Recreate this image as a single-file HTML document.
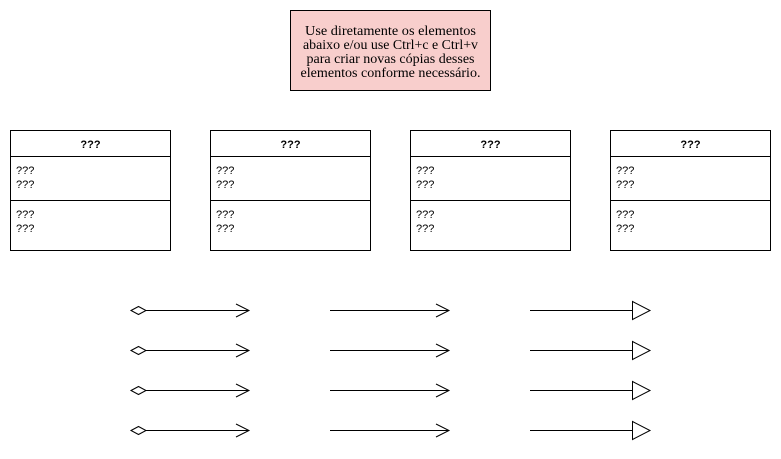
<!DOCTYPE html>
<html><head><meta charset="utf-8"><style>
html,body{margin:0;padding:0;background:#fff;}
svg{display:block;}
</style></head><body>
<svg width="781" height="459" viewBox="0 0 781 459" xmlns="http://www.w3.org/2000/svg">
<rect x="0" y="0" width="781" height="459" fill="#fff"/>
<rect x="290.5" y="10.5" width="200" height="80" fill="#f8cecc" stroke="#000" stroke-width="1"/>
<g font-family="'Liberation Serif', serif" font-size="13.5" fill="#000" text-anchor="middle" lengthAdjust="spacingAndGlyphs">
<text x="390.5" y="35" textLength="171" lengthAdjust="spacingAndGlyphs">Use diretamente os elementos</text>
<text x="390.5" y="49" textLength="175" lengthAdjust="spacingAndGlyphs">abaixo e/ou use Ctrl+c e Ctrl+v</text>
<text x="390.5" y="63" textLength="168" lengthAdjust="spacingAndGlyphs">para criar novas cópias desses</text>
<text x="390.5" y="77" textLength="180" lengthAdjust="spacingAndGlyphs">elementos conforme necessário.</text>
</g>
<g id="cls" font-family="'Liberation Sans', sans-serif" font-size="11" fill="#000">
<rect x="10.5" y="130.5" width="160" height="120" fill="#fff" stroke="#000"/>
<line x1="10.5" y1="156.5" x2="170.5" y2="156.5" stroke="#000"/>
<line x1="10.5" y1="200.5" x2="170.5" y2="200.5" stroke="#000"/>
<text x="90.5" y="148" text-anchor="middle" font-weight="bold">???</text>
<text x="16" y="174">???</text>
<text x="16" y="188">???</text>
<text x="16" y="218">???</text>
<text x="16" y="232">???</text>
</g>
<use href="#cls" x="200"/>
<use href="#cls" x="400"/>
<use href="#cls" x="600"/>
<g id="row" fill="none" stroke="#000" stroke-width="1">
<path d="M131 310.5 L138.5 306.5 L146 310.5 L138.5 314.5 Z" fill="#fff"/>
<line x1="146" y1="310.5" x2="249" y2="310.5"/>
<path d="M236 304 L249 310.5 L236 317"/>
<line x1="330" y1="310.5" x2="449" y2="310.5"/>
<path d="M436 304 L449 310.5 L436 317"/>
<line x1="530" y1="310.5" x2="632" y2="310.5"/>
<path d="M632.5 301.5 L650 310.5 L632.5 319.5 Z" fill="#fff"/>
</g>
<use href="#row" y="40"/>
<use href="#row" y="80"/>
<use href="#row" y="120"/>
</svg>
</body></html>
